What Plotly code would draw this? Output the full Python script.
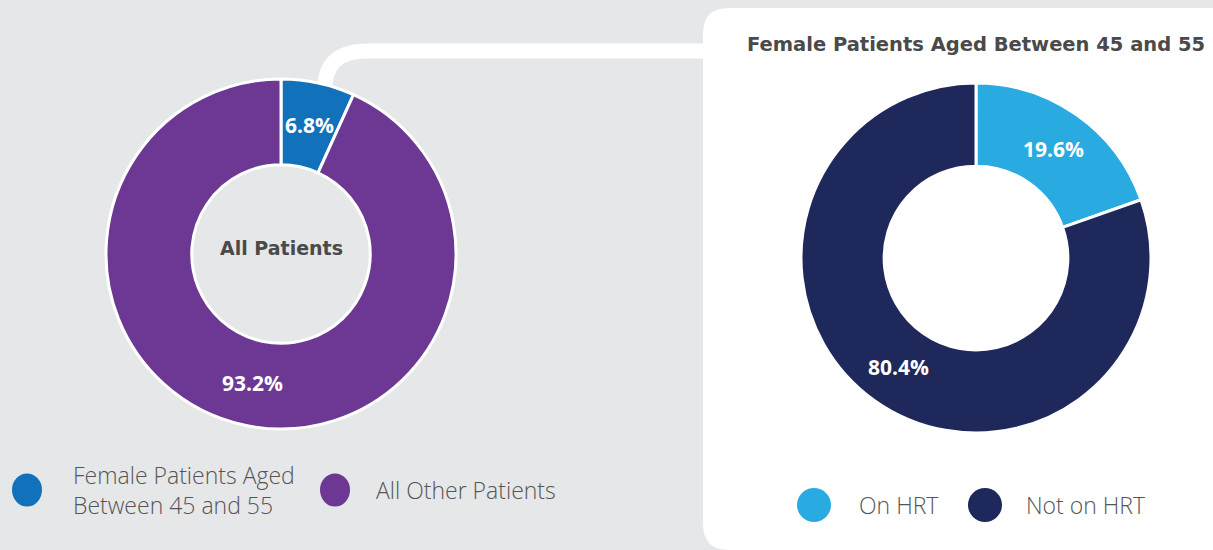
import math
import plotly.graph_objects as go

W, H = 1213, 550

# ---- data ----
all_labels = ["Female Patients Aged Between 45 and 55", "All Other Patients"]
all_values = [6.8, 93.2]
all_colors = ["#1172bb", "#6c3893"]
legend_left_text = ["Female Patients Aged<br>Between 45 and 55", "All Other Patients"]
center_text = "All Patients"

hrt_labels = ["On HRT", "Not on HRT"]
hrt_values = [19.6, 80.4]
hrt_colors = ["#29abe2", "#1e285a"]
panel_title = "Female Patients Aged Between 45 and 55"

BG = "#e6e7e9"
TEXT_DARK = "#4a4a4a"
TEXT_LEG = "#555555"
BOLD_FONT = "DejaVu Sans"
PCT_FONT = "Open Sans"
LEG_FONT = "Open Sans"


def px(x):
    return x / W


def py(y):
    return 1 - y / H


# geometry (pixels)
L_CX, L_CY, L_R, L_HOLE = 281, 254, 175, 0.51
R_CX, R_CY, R_R, R_HOLE = 976, 258, 175, 0.525


def domain(cx, cy, r):
    return dict(x=[px(cx - r), px(cx + r)], y=[py(cy + r), py(cy - r)])


fig = go.Figure()

fig.add_trace(go.Pie(
    labels=all_labels, values=all_values, hole=L_HOLE, sort=False,
    direction="clockwise", rotation=0, domain=domain(L_CX, L_CY, L_R),
    marker=dict(colors=all_colors, line=dict(color="white", width=3)),
    textinfo="none", showlegend=False, hoverinfo="label+percent"))

fig.add_trace(go.Pie(
    labels=hrt_labels, values=hrt_values, hole=R_HOLE, sort=False,
    direction="clockwise", rotation=0, domain=domain(R_CX, R_CY, R_R),
    marker=dict(colors=hrt_colors, line=dict(color="white", width=3)),
    textinfo="none", showlegend=False, hoverinfo="label+percent"))

annotations = []
shapes = []


def pct_labels(values, cx, cy, r, hole):
    total = sum(values)
    cum = 0
    rmid = (r * hole + r) / 2
    for v in values:
        th = (cum + v / 2) / total * 2 * math.pi
        x = cx + rmid * math.sin(th)
        y = cy - rmid * math.cos(th)
        annotations.append(dict(
            x=px(x), y=py(y), xref="paper", yref="paper", showarrow=False,
            text=f"<b>{v:.1f}%</b>",
            font=dict(family=PCT_FONT, size=21, color="white"),
            xanchor="center", yanchor="middle"))
        cum += v


pct_labels(all_values, L_CX, L_CY, L_R, L_HOLE)
pct_labels(hrt_values, R_CX, R_CY, R_R, R_HOLE)

# center text
annotations.append(dict(
    x=px(L_CX), y=py(L_CY - 6), xref="paper", yref="paper", showarrow=False,
    text=f"<b>{center_text}</b>", xanchor="center", yanchor="middle",
    font=dict(family=BOLD_FONT, size=19, color=TEXT_DARK)))

# panel title
annotations.append(dict(
    x=px(976), y=py(45), xref="paper", yref="paper", showarrow=False,
    text=f"<b>{panel_title}</b>", xanchor="center", yanchor="middle",
    font=dict(family=BOLD_FONT, size=19.5, color=TEXT_DARK)))

# white panel
shapes.append(dict(
    type="path", xref="paper", yref="paper", layer="below",
    path=(f"M {px(703)},{py(34)} Q {px(703)},{py(8)} {px(729)},{py(8)} "
          f"L {px(1213)},{py(8)} L {px(1213)},{py(550)} L {px(729)},{py(550)} "
          f"Q {px(703)},{py(550)} {px(703)},{py(524)} Z"),
    fillcolor="white", line=dict(width=0)))

# connector
shapes.append(dict(
    type="path", xref="paper", yref="paper", layer="below",
    path=(f"M {px(325)},{py(90)} L {px(325)},{py(88)} "
          f"Q {px(325)},{py(51)} {px(368)},{py(51)} L {px(712)},{py(51)}"),
    line=dict(color="white", width=15)))


def legend_item(cx, cy, rx, ry, color, tx, text):
    shapes.append(dict(
        type="circle", xref="paper", yref="paper",
        x0=px(cx - rx), x1=px(cx + rx), y0=py(cy + ry), y1=py(cy - ry),
        fillcolor=color, line=dict(width=0)))
    annotations.append(dict(
        x=px(tx), y=py(cy), xref="paper", yref="paper", showarrow=False,
        text=text, xanchor="left", yanchor="middle", align="left",
        font=dict(family=LEG_FONT, size=23, color=TEXT_LEG, weight=300)))


legend_item(27, 490, 15, 16.5, all_colors[0], 71, legend_left_text[0])
legend_item(335, 490, 15, 16.5, all_colors[1], 374, legend_left_text[1])
legend_item(814, 505, 17, 17, hrt_colors[0], 857, hrt_labels[0])
legend_item(985, 505, 17, 17, hrt_colors[1], 1024, hrt_labels[1])

fig.update_layout(
    width=W, height=H, margin=dict(l=0, r=0, t=0, b=0),
    paper_bgcolor=BG, plot_bgcolor=BG,
    annotations=annotations, shapes=shapes, showlegend=False)

fig.write_html("out.html", config={"displayModeBar": False},
               post_script="document.body.style.margin='0';document.body.style.overflow='hidden';")
